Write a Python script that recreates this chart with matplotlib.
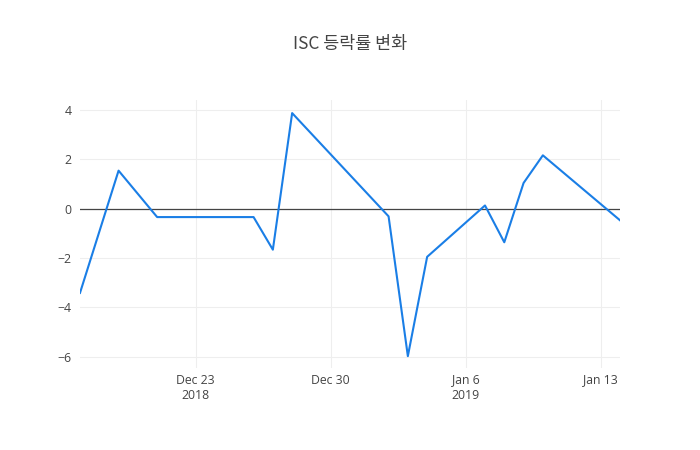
import matplotlib
matplotlib.use("Agg")
from matplotlib import pyplot as plt
import matplotlib.dates as mdates
import numpy as np
import pandas as pd

plt.rcParams['font.family'] = ['Open Sans', 'Noto Sans CJK KR', 'DejaVu Sans']

# ISC daily change (%)
dates = pd.to_datetime([
    "2018-12-17", "2018-12-19", "2018-12-21", "2018-12-26", "2018-12-27",
    "2018-12-28", "2019-01-02", "2019-01-03", "2019-01-04", "2019-01-07",
    "2019-01-08", "2019-01-09", "2019-01-10", "2019-01-14",
])
change = [-3.41, 1.54, -0.34, -0.34, -1.66, 3.87, -0.31, -5.97, -1.95, 0.13,
          -1.36, 1.04, 2.16, -0.47]

tick_dates = pd.to_datetime(["2018-12-23", "2018-12-30", "2019-01-06", "2019-01-13"])
tick_labels = ["Dec 23\n2018", "Dec 30", "Jan 6\n2019", "Jan 13"]
y_ticks = [-6, -4, -2, 0, 2, 4]

fig = plt.figure(figsize=(7, 4.5), dpi=100)
ax = fig.add_axes([80/700, 82/450, 540/700, 268/450])

ax.plot(dates, change, color="#1a7ee6", lw=1.5, zorder=3)
ax.axhline(0, color="#444444", lw=0.9, zorder=2)

ax.set_xlim(dates[0], dates[-1])
ax.set_ylim(-6.45, 4.4)
ax.set_xticks(tick_dates)
ax.set_xticklabels(tick_labels)
ax.set_yticks(y_ticks)
ax.set_yticklabels(["\u22126", "\u22124", "\u22122", "0", "2", "4"])

ax.grid(True, color="#eeeeee", lw=0.8, zorder=0)
for s in ax.spines.values():
    s.set_visible(False)
ax.tick_params(length=0, labelsize=8.8, colors="#444444")
ax.tick_params(axis="x", pad=4)
ax.tick_params(axis="y", pad=6)

fig.text(0.5, 1 - 44/450, "ISC 등락률 변화", ha="center", va="center",
         fontsize=12.5, color="#444444",
         family=['Noto Sans CJK KR', 'DejaVu Sans'])

fig.savefig("out.png", dpi=100)
